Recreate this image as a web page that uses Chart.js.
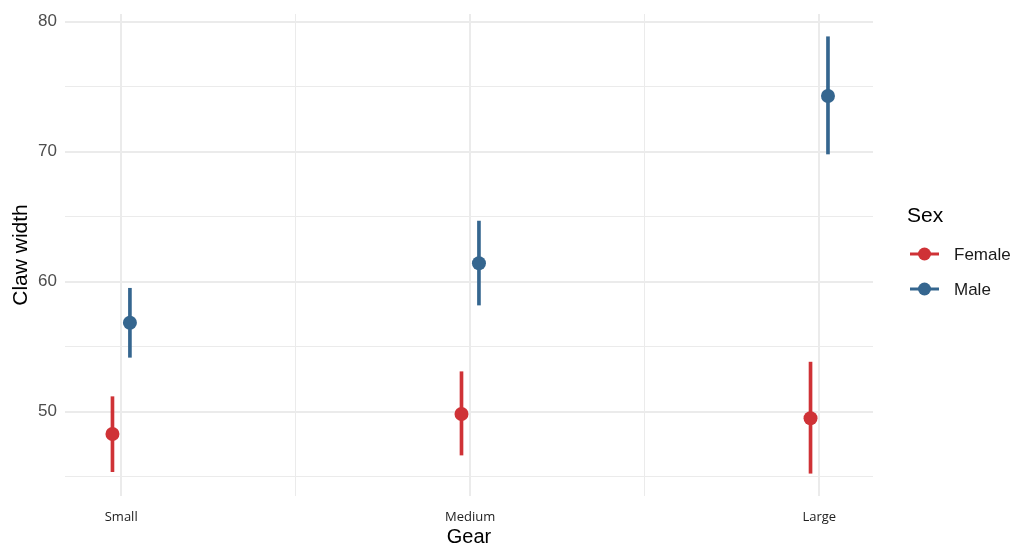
<!DOCTYPE html>
<html>
<head>
<meta charset="utf-8">
<script src="https://cdn.jsdelivr.net/npm/chart.js@4.4.1/dist/chart.umd.min.js"></script>
<style>
  html, body { margin: 0; padding: 0; background: #ffffff; }
  #wrap { width: 1014px; height: 544px; position: relative; }
</style>
</head>
<body>
<div id="wrap"><canvas id="c" width="1014" height="544"></canvas></div>
<script>
// ---- data ----
const categories = ["Small", "Medium", "Large"];
const seriesNames = ["Female", "Male"];
const seriesColors = ["#cf3236", "#35668f"];
const femaleMean  = [48.27, 49.81, 49.48];
const femaleLower = [45.37, 46.65, 45.25];
const femaleUpper = [51.14, 53.06, 53.80];
const maleMean    = [56.83, 61.40, 74.27];
const maleLower   = [54.17, 58.19, 69.81];
const maleUpper   = [59.48, 64.65, 78.83];
const yTicks = [45, 50, 55, 60, 65, 70, 75, 80];
const yLabelled = [50, 60, 70, 80];
const dodge = [-0.025, 0.025];

const FONT = "'Liberation Sans', Arial, sans-serif";

function pts(mean, k) {
  return mean.map((v, i) => ({ x: i + 1 + dodge[k], y: v }));
}
function bars(lo, hi, k) {
  return lo.map((v, i) => ({ x: i + 1 + dodge[k], y: [v, hi[i]] }));
}

const legendPlugin = {
  id: 'customLegend',
  afterDraw(chart) {
    const ctx = chart.ctx;
    ctx.save();
    ctx.fillStyle = '#000000';
    ctx.font = "21px " + FONT;
    ctx.textAlign = 'left';
    ctx.textBaseline = 'middle';
    ctx.fillText('Sex', 907, 216);
    const ys = [254, 289];
    seriesNames.forEach((name, k) => {
      const y = ys[k];
      ctx.strokeStyle = seriesColors[k];
      ctx.lineWidth = 3;
      ctx.beginPath();
      ctx.moveTo(910, y);
      ctx.lineTo(939, y);
      ctx.stroke();
      ctx.fillStyle = seriesColors[k];
      ctx.beginPath();
      ctx.arc(924.5, y, 6.5, 0, Math.PI * 2);
      ctx.fill();
      ctx.fillStyle = '#1a1a1a';
      ctx.font = "17px " + FONT;
      ctx.fillText(name, 954, y + 1);
    });
    ctx.restore();
  }
};

new Chart(document.getElementById('c'), {
  data: {
    datasets: [
      { type: 'scatter', label: seriesNames[0], data: pts(femaleMean, 0), backgroundColor: seriesColors[0], borderColor: seriesColors[0], pointRadius: 7, pointHoverRadius: 7, borderWidth: 0, order: 0 },
      { type: 'scatter', label: seriesNames[1], data: pts(maleMean, 1), backgroundColor: seriesColors[1], borderColor: seriesColors[1], pointRadius: 7, pointHoverRadius: 7, borderWidth: 0, order: 0 },
      { type: 'bar', label: seriesNames[0] + ' CI', data: bars(femaleLower, femaleUpper, 0), backgroundColor: seriesColors[0], barThickness: 3, grouped: false, borderWidth: 0, order: 1 },
      { type: 'bar', label: seriesNames[1] + ' CI', data: bars(maleLower, maleUpper, 1), backgroundColor: seriesColors[1], barThickness: 3, grouped: false, borderWidth: 0, order: 1 }
    ]
  },
  options: {
    responsive: false,
    animation: false,
    events: [],
    layout: { padding: { top: 14, right: 141, left: 0, bottom: 0 } },
    plugins: { legend: { display: false }, tooltip: { enabled: false } },
    scales: {
      x: {
        type: 'linear',
        min: 0.839, max: 3.154,
        offset: false,
        border: { display: false },
        grid: {
          offset: false,
          drawTicks: false,
          color: '#ebebeb',
          lineWidth: (c) => (c.tick && Number.isInteger(c.tick.value)) ? 2 : 1
        },
        afterBuildTicks: (s) => { s.ticks = [1, 1.5, 2, 2.5, 3].map(v => ({ value: v })); },
        afterFit: (s) => { s.height = 48; s.paddingLeft = 0; s.paddingRight = 0; },
        ticks: {
          padding: 13,
          color: '#222222',
          font: { family: "'Open Sans', sans-serif", size: 13 },
          maxRotation: 0,
          autoSkip: false,
          callback: (v) => Number.isInteger(v) ? categories[v - 1] : ''
        },
        title: {
          display: true, text: 'Gear', color: '#000000',
          font: { family: FONT, size: 20, lineHeight: 0.7 },
          padding: { top: 0, bottom: 0 }
        }
      },
      y: {
        type: 'linear',
        min: 43.5, max: 80.58,
        border: { display: false },
        grid: {
          drawTicks: false,
          color: '#ebebeb',
          lineWidth: (c) => (c.tick && yLabelled.includes(c.tick.value)) ? 2 : 1
        },
        afterBuildTicks: (s) => { s.ticks = yTicks.map(v => ({ value: v })); },
        afterFit: (s) => { s.width = 65; s.paddingTop = 0; s.paddingBottom = 0; },
        ticks: {
          padding: 8,
          color: '#4d4d4d',
          font: { family: FONT, size: 17 },
          callback: (v) => yLabelled.includes(v) ? String(v) : ''
        },
        title: {
          display: true, text: 'Claw width', color: '#000000',
          font: { family: FONT, size: 21, lineHeight: 1.2 },
          padding: { top: 9, bottom: 0 }
        }
      }
    }
  },
  plugins: [legendPlugin]
});
</script>
</body>
</html>
